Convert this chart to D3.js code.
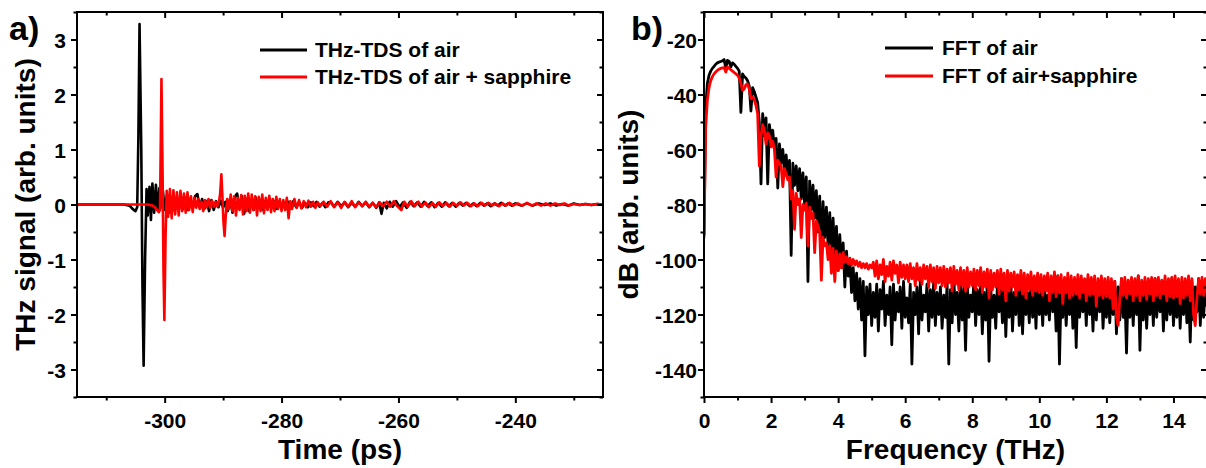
<!DOCTYPE html>
<html><head><meta charset="utf-8">
<script src="https://cdn.jsdelivr.net/npm/d3@7"></script>
<style>
body{margin:0;background:#fff;}
svg{display:block;font-family:"Liberation Sans",Arial,sans-serif;font-weight:bold;}
</style></head><body>
<svg id="c" width="1206" height="468"></svg>
<script>
// ---------- Panel a: THz time-domain signals [time (ps), signal] ----------
const tdsAir = [
[-315,0],[-310,0],[-307,0],[-306,-0.02],[-305.5,-0.08],[-305,-0.12],[-304.7,-0.05],[-304.5,1.2],[-304.3,3.28],[-304,1.0],
[-303.8,-1.5],[-303.6,-2.93],[-303.35,-1.0],[-303.1,0.28],[-302.9,-0.2],[-302.6,0.32],[-302.35,-0.28],[-302.1,0.38],[-301.8,-0.15],[-301.5,0.36],
[-301.2,-0.1],[-300.9,0.3],[-300.6,-0.05],[-300.3,0.25],[-300,-0.1],[-299.6,0.18],[-299.2,-0.15],[-298.8,0.12],[-298.4,-0.1],[-298,0.08],
[-297.6,-0.12],[-297.2,0.1],[-296.8,-0.08],[-296.4,0.12],[-296,-0.1],[-295.6,0.08],[-295.2,-0.06],[-294.8,0.15],[-294.4,0.19],[-294,-0.05],
[-293.6,0.1],[-293.2,-0.08],[-292.8,0.06],[-292.4,-0.12],[-292,0.08],[-291.6,-0.1],[-291.2,0.06],[-290.8,-0.05],[-290.4,0.07],[-290,-0.06],
[-289.6,0.05],[-289.2,-0.12],[-288.8,0.1],[-288.4,-0.15],[-288,0.14],[-287.6,0.2],[-287.2,-0.08],[-286.8,0.15],[-286.4,-0.17],[-286,0.1],
[-285.6,-0.12],[-285.2,0.08],[-284.8,-0.1],[-284.4,0.12],[-284,-0.06],[-283.6,0.08],[-283.2,-0.1],[-282.8,0.06],[-282.4,-0.08],[-282,0.1],
[-281.6,-0.05],[-281.2,0.06],[-280.8,-0.08],[-280.4,0.05],[-280,-0.06],[-279.6,0.04],[-279.2,-0.07],[-278.8,0.05],[-278.4,-0.04],[-278,0.06],
[-277.5,-0.05],[-277,0.04],[-276.5,-0.06],[-276,0.03],[-275.5,-0.05],[-275,0.04],[-274.5,-0.03],[-274,0.05],[-273.5,-0.04],[-273,0.03],
[-272.5,-0.05],[-272,0.04],[-271.5,0.03],[-271,-0.04],[-270.4,0.05],[-269.8,-0.03],[-269.2,0.04],[-268.6,-0.05],[-268,0.03],[-267.4,-0.04],
[-266.8,0.05],[-266.2,-0.03],[-265.6,0.04],[-265,-0.05],[-264.4,0.03],[-263.8,-0.06],[-263.3,0.04],[-262.9,-0.17],[-262.5,0.03],[-262,-0.07],
[-261.5,0.05],[-261,-0.04],[-260.4,0.06],[-259.8,-0.05],[-259.2,0.04],[-258.6,-0.06],[-258,0.05],[-257.4,-0.03],[-256.8,0.04],[-256.2,-0.04],
[-255.6,0.05],[-255,-0.03],[-254.4,0.04],[-253.8,-0.05],[-253.2,0.03],[-252.6,-0.04],[-252,0.04],[-251.4,-0.03],[-250.8,0.03],[-250.2,-0.04],
[-249.6,0.03],[-249,-0.02],[-248.4,0.03],[-247.8,-0.03],[-247.2,0.02],[-246.6,-0.03],[-246,0.03],[-245.4,-0.02],[-244.8,0.02],[-244.2,-0.03],
[-243.6,0.02],[-243,-0.02],[-242.4,0.03],[-241.8,-0.02],[-241.2,0.02],[-240.6,-0.02],[-240,0.02],[-239,-0.02],[-238,0.02],[-237,-0.02],
[-236,0.02],[-235,-0.01],[-234,0.02],[-233,-0.02],[-232,0.01],[-231,-0.02],[-230,0.02],[-229,-0.01],[-228,0.01],[-227,-0.01],[-226,0.01],[-225,0]
];
const tdsSapphire = [
[-315,0],[-303,0],[-302,-0.02],[-301.5,-0.07],[-301,-0.14],[-300.8,-0.1],[-300.7,0.8],[-300.55,2.28],[-300.35,0.5],[-300.2,-1.2],
[-300.05,-2.1],[-299.85,-0.6],[-299.65,0.25],[-299.4,-0.22],[-299.1,0.28],[-298.8,-0.25],[-298.5,0.26],[-298.2,-0.18],[-297.9,0.22],[-297.6,-0.2],
[-297.3,0.25],[-297,-0.12],[-296.7,0.2],[-296.4,-0.15],[-296.1,0.22],[-295.8,-0.1],[-295.5,0.15],[-295.2,-0.14],[-294.9,0.12],[-294.6,-0.06],
[-294.3,0.1],[-294,-0.08],[-293.7,0.05],[-293.4,-0.12],[-293.1,0.08],[-292.8,-0.05],[-292.5,0.1],[-292.2,-0.06],[-291.9,0.07],[-291.6,-0.04],
[-291.3,0.05],[-291,-0.03],[-290.7,0.05],[-290.5,0.2],[-290.3,0.55],[-290.1,0.1],[-289.95,-0.3],[-289.75,-0.57],[-289.55,-0.2],[-289.3,0.1],
[-289,-0.08],[-288.7,0.18],[-288.4,-0.12],[-288.1,0.15],[-287.8,-0.2],[-287.5,0.12],[-287.2,-0.1],[-286.9,0.17],[-286.6,-0.18],[-286.3,0.16],
[-286,-0.12],[-285.7,0.2],[-285.4,-0.15],[-285.1,0.18],[-284.8,-0.1],[-284.5,0.15],[-284.2,-0.2],[-283.9,0.14],[-283.6,-0.12],[-283.3,0.18],
[-283,-0.16],[-282.7,0.12],[-282.4,-0.1],[-282.1,0.16],[-281.8,-0.14],[-281.5,0.1],[-281.2,-0.12],[-280.9,0.14],[-280.6,-0.08],[-280.3,0.1],
[-280,-0.12],[-279.7,0.08],[-279.4,-0.1],[-279.1,0.12],[-278.8,-0.25],[-278.5,0.06],[-278.2,-0.08],[-277.8,0.1],[-277.4,-0.06],[-277,0.08],
[-276.6,-0.07],[-276.2,0.06],[-275.8,-0.05],[-275.4,0.07],[-275,-0.04],[-274.6,0.05],[-274.2,-0.06],[-273.8,0.04],[-273.4,-0.03],[-272.8,0.05],
[-272.2,-0.04],[-271.6,0.06],[-271,-0.05],[-270.4,0.04],[-269.8,-0.06],[-269.2,0.05],[-268.6,-0.04],[-268,0.06],[-267.4,-0.05],[-266.8,0.04],
[-266.2,-0.03],[-265.6,0.05],[-265,-0.04],[-264.4,0.03],[-263.8,-0.05],[-263.2,0.04],[-262.6,-0.03],[-262,0.05],[-261.4,-0.04],[-260.8,0.06],
[-260.2,-0.03],[-259.5,-0.1],[-259,0.05],[-258.4,-0.04],[-257.8,0.06],[-257.2,-0.03],[-256.6,0.05],[-256,-0.04],[-255.4,0.04],[-254.8,-0.05],
[-254.2,0.03],[-253.6,-0.04],[-253,0.04],[-252.4,-0.03],[-251.8,0.03],[-251.2,-0.04],[-250.6,0.03],[-250,-0.03],[-249.4,0.04],[-248.8,-0.02],
[-248.2,0.03],[-247.6,-0.03],[-247,0.02],[-246.4,-0.03],[-245.8,0.03],[-245.2,-0.02],[-244.6,0.03],[-244,-0.02],[-243.4,0.02],[-242.8,-0.03],
[-242.2,0.02],[-241.6,-0.02],[-241,0.03],[-240.4,-0.02],[-239.6,0.02],[-238.8,-0.02],[-238,0.03],[-237.2,-0.02],[-236.4,0.02],[-235.6,-0.02],
[-234.8,0.02],[-234,-0.02],[-233.2,0.02],[-232.4,-0.01],[-231.6,0.02],[-230.8,-0.02],[-230,0.01],[-229,-0.01],[-228,0.01],[-227,-0.01],[-226,0.01],[-225,0]
];

// ---------- Panel b: FFT spectra (frequency in THz, 0.05 THz sampling) ----------
const freqTHz = [
0,0.05,0.1,0.15,0.2,0.25,0.3,0.35,0.4,0.45,0.5,0.55,0.6,0.65,0.7,0.75,0.8,0.85,0.9,0.95,
1,1.05,1.1,1.15,1.2,1.25,1.3,1.35,1.4,1.45,1.5,1.55,1.6,1.65,1.7,1.75,1.8,1.85,1.9,1.95,
2,2.05,2.1,2.15,2.2,2.25,2.3,2.35,2.4,2.45,2.5,2.55,2.6,2.65,2.7,2.75,2.8,2.85,2.9,2.95,
3,3.05,3.1,3.15,3.2,3.25,3.3,3.35,3.4,3.45,3.5,3.55,3.6,3.65,3.7,3.75,3.8,3.85,3.9,3.95,
4,4.05,4.1,4.15,4.2,4.25,4.3,4.35,4.4,4.45,4.5,4.55,4.6,4.65,4.7,4.75,4.8,4.85,4.9,4.95,
5,5.05,5.1,5.15,5.2,5.25,5.3,5.35,5.4,5.45,5.5,5.55,5.6,5.65,5.7,5.75,5.8,5.85,5.9,5.95,
6,6.05,6.1,6.15,6.2,6.25,6.3,6.35,6.4,6.45,6.5,6.55,6.6,6.65,6.7,6.75,6.8,6.85,6.9,6.95,
7,7.05,7.1,7.15,7.2,7.25,7.3,7.35,7.4,7.45,7.5,7.55,7.6,7.65,7.7,7.75,7.8,7.85,7.9,7.95,
8,8.05,8.1,8.15,8.2,8.25,8.3,8.35,8.4,8.45,8.5,8.55,8.6,8.65,8.7,8.75,8.8,8.85,8.9,8.95,
9,9.05,9.1,9.15,9.2,9.25,9.3,9.35,9.4,9.45,9.5,9.55,9.6,9.65,9.7,9.75,9.8,9.85,9.9,9.95,
10,10.05,10.1,10.15,10.2,10.25,10.3,10.35,10.4,10.45,10.5,10.55,10.6,10.65,10.7,10.75,10.8,10.85,10.9,10.95,
11,11.05,11.1,11.15,11.2,11.25,11.3,11.35,11.4,11.45,11.5,11.55,11.6,11.65,11.7,11.75,11.8,11.85,11.9,11.95,
12,12.05,12.1,12.15,12.2,12.25,12.3,12.35,12.4,12.45,12.5,12.55,12.6,12.65,12.7,12.75,12.8,12.85,12.9,12.95,
13,13.05,13.1,13.15,13.2,13.25,13.3,13.35,13.4,13.45,13.5,13.55,13.6,13.65,13.7,13.75,13.8,13.85,13.9,13.95,
14,14.05,14.1,14.15,14.2,14.25,14.3,14.35,14.4,14.45,14.5,14.55,14.6,14.65,14.7,14.75,14.8,14.85,14.9,14.95,15
];
const fftAir = [
-91,-45,-36,-33,-31.5,-30.5,-29.8,-29,-28.5,-28.2,-28,-27.8,-27.3,-30.5,-27.6,-28,-30,-28.5,-29,-29.8,
-30.5,-31.5,-46.5,-32.5,-33.5,-34,-35,-37,-46,-37.5,-39,-41,-43,-50,-72.5,-47,-55,-48.5,-72.5,-51,
-56,-53,-60,-56,-74,-58,-65,-60,-68,-62,-70,-64,-98.5,-65,-73,-66,-75,-67,-78,-68.5,
-80,-70,-108,-71.5,-82,-73,-85,-75,-90,-77,-99,-79,-92,-81,-95,-83,-97,-85,-100,-88,
-104,-91,-103,-94,-110,-97,-106,-100,-112,-103,-115,-105,-118,-107,-122,-108,-135,-110,-120,-109,
-124,-112,-121,-109,-126,-111,-118,-108,-124,-113,-120,-110,-131,-109,-122,-112,-119,-110,-125,-108,
-121,-114,-123,-109,-138,-112,-120,-110,-127,-108,-122,-113,-119,-109,-126,-111,-121,-108,-124,-112,
-120,-110,-125,-113,-121,-109,-138,-111,-123,-107,-120,-112,-126,-109,-122,-110,-133,-108,-121,-113,
-119,-107,-124,-111,-120,-109,-127,-112,-122,-108,-137,-110,-121,-113,-125,-109,-119,-111,-123,-107,
-128,-110,-121,-108,-126,-112,-120,-106,-124,-111,-127,-109,-120,-112,-123,-107,-121,-110,-125,-108,
-120,-111,-124,-109,-120,-113,-122,-107,-119,-110,-126,-106,-138,-111,-121,-108,-124,-112,-120,-109,
-125,-110,-132,-108,-121,-112,-119,-109,-124,-107,-120,-111,-126,-108,-122,-110,-119,-107,-125,-112,
-121,-109,-123,-111,-120,-108,-127,-110,-122,-107,-121,-112,-134,-109,-121,-111,-124,-108,-120,-106,
-133,-110,-122,-108,-125,-112,-120,-109,-124,-107,-121,-111,-119,-108,-126,-110,-122,-109,-120,-107,
-124,-112,-121,-108,-125,-110,-120,-109,-123,-111,-130,-108,-122,-110,-119,-107,-124,-109,-121,-108,-117
];
const fftSapphire = [
-92,-52,-42,-37.5,-35,-33.5,-32.5,-31.8,-31.2,-30.8,-30.5,-30.3,-30.2,-31.8,-30,-30.5,-31,-31.5,-32,-32.5,
-33,-34,-36,-38.5,-38,-36.5,-36.2,-38,-41.5,-41,-42,-44,-47,-66,-55,-51,-53,-58,-54,-55,
-59,-57,-60,-70,-64,-65,-66,-73.5,-67,-69,-71,-70,-78,-75,-89,-76,-80,-78,-92,-80,
-82,-79.5,-95,-81,-85,-83,-97.5,-86,-88,-90,-107.5,-92,-95,-94,-100,-95,-105,-96,-108,-97,
-104,-98,-103,-97.5,-101,-99,-101.5,-99.5,-102,-100,-102,-100.5,-102.5,-101,-103,-101.5,-103,-101.5,-103.5,-102,
-103,-101,-106,-100.5,-107,-102,-105.5,-100,-108,-102.5,-106,-101,-107.5,-100.5,-105,-102,-108.5,-101,-106.5,-102,
-107,-102,-108,-101.5,-107,-103,-109.5,-101.5,-107.5,-103,-109,-102,-107,-102.5,-110,-102,-108,-103,-110.5,-102.5,
-108.5,-103,-109.5,-102.5,-110,-103.5,-108.5,-103,-111.5,-102.5,-109,-104,-111,-103,-109.5,-104,-111.5,-103,-110,-104.5,
-109.5,-103.5,-111,-104,-109.5,-103,-112,-104.5,-110,-103.5,-114,-104,-111,-105,-110,-104,-112.5,-103.5,-111,-105,
-115,-104,-111.5,-105,-110,-104.5,-113,-105.5,-111,-104,-112.5,-105,-114,-105.5,-111,-104.5,-113,-106,-111.5,-105,
-112,-105.5,-113,-106,-111.5,-105,-115,-106,-112,-104.5,-113.5,-106,-112,-105.5,-116,-106.5,-112,-105,-114,-106,
-113,-106.5,-112.5,-105.5,-114,-106,-112,-107,-115,-105.5,-113,-106.5,-112.5,-106,-117,-107,-113,-106,-114,-107,
-113.5,-106.5,-114,-107,-118,-108,-121,-124,-114,-107,-113,-106.5,-114,-107.5,-112.5,-106.5,-115,-107,-113,-106,
-115,-107.5,-113,-106.5,-114.5,-107,-112.5,-106.5,-115,-107,-113,-106.5,-114,-107.5,-112.5,-106,-115,-107,-113.5,-106.5,
-114,-106,-113.5,-107,-116,-106.5,-114,-107,-113,-106,-115,-107,-120,-124,-114,-107,-112.5,-106.5,-113,-107,-112
];

// tick values
const timeMajor = [-300,-280,-260,-240], timeMinor = [-310,-290,-270,-250,-230];
const sigMajor = [-3,-2,-1,0,1,2,3], sigMinor = [-3.5,-2.5,-1.5,-0.5,0.5,1.5,2.5,3.5];
const freqMajor = [0,2,4,6,8,10,12,14], freqMinor = [1,3,5,7,9,11,13,15];
const dbMajor = [-140,-120,-100,-80,-60,-40,-20], dbMinor = [-150,-130,-110,-90,-70,-50,-30,-10];
const legendA = ["THz-TDS of air","THz-TDS of air + sapphire"];
const legendB = ["FFT of air","FFT of air+sapphire"];
const colors = ["#000000","#ff0000"];

const svg = d3.select("#c");

function drawPanel(o){
  const g = svg.append("g");
  const [x0,x1] = o.x.range(), [y1,y0] = o.y.range();
  const cid = "clip"+o.id;
  svg.append("clipPath").attr("id",cid).append("rect")
     .attr("x",x0).attr("y",y0).attr("width",x1-x0).attr("height",y1-y0);
  const plot = g.append("g").attr("clip-path",`url(#${cid})`);
  o.series.forEach((s,i)=>{
    plot.append("path").datum(s)
      .attr("fill","none").attr("stroke",colors[i]).attr("stroke-width",o.lw)
      .attr("stroke-linejoin","round").attr("stroke-linecap","round")
      .attr("d", d3.line().x(d=>o.x(d[0])).y(d=>o.y(d[1])));
  });
  // frame
  g.append("rect").attr("x",x0).attr("y",y0).attr("width",x1-x0).attr("height",y1-y0)
    .attr("fill","none").attr("stroke","#000").attr("stroke-width",2);
  const style = sel => { sel.select(".domain").remove(); sel.selectAll("line").attr("stroke","#000").attr("stroke-width",2); };
  // bottom
  const bx = g.append("g").attr("transform",`translate(0,${y1})`)
    .call(d3.axisBottom(o.x).tickValues(o.xMajor).tickSize(6).tickFormat(d=>d)).call(style);
  bx.selectAll("text").attr("y",31).attr("dy",0).attr("font-size",21).attr("font-weight","bold")
    .attr("font-family","Liberation Sans, Arial, sans-serif").attr("fill","#000");
  g.append("g").attr("transform",`translate(0,${y1})`)
    .call(d3.axisBottom(o.x).tickValues(o.xMinor).tickSize(3.5).tickFormat("")).call(style);
  // top (inward)
  g.append("g").attr("transform",`translate(0,${y0})`)
    .call(d3.axisBottom(o.x).tickValues(o.xMajor).tickSize(6).tickFormat("")).call(style);
  g.append("g").attr("transform",`translate(0,${y0})`)
    .call(d3.axisBottom(o.x).tickValues(o.xMinor).tickSize(3.5).tickFormat("")).call(style);
  // left
  const ly = g.append("g").attr("transform",`translate(${x0},0)`)
    .call(d3.axisLeft(o.y).tickValues(o.yMajor).tickSize(6).tickFormat(d=>d)).call(style);
  ly.selectAll("text").attr("x",o.labelDx).attr("dy","0.36em").attr("font-size",21).attr("font-weight","bold")
    .attr("font-family","Liberation Sans, Arial, sans-serif").attr("fill","#000");
  g.append("g").attr("transform",`translate(${x0},0)`)
    .call(d3.axisLeft(o.y).tickValues(o.yMinor).tickSize(3.5).tickFormat("")).call(style);
  // right (inward)
  g.append("g").attr("transform",`translate(${x1},0)`)
    .call(d3.axisLeft(o.y).tickValues(o.yMajor).tickSize(6).tickFormat("")).call(style);
  g.append("g").attr("transform",`translate(${x1},0)`)
    .call(d3.axisLeft(o.y).tickValues(o.yMinor).tickSize(3.5).tickFormat("")).call(style);
  // titles
  g.append("text").attr("x",(x0+x1)/2).attr("y",459).attr("text-anchor","middle")
    .attr("font-size",28).text(o.xTitle);
  g.append("text").attr("transform",`translate(${o.yTitleX},${(y0+y1)/2}) rotate(-90)`)
    .attr("text-anchor","middle").attr("font-size",28).text(o.yTitle);
  g.append("text").attr("x",o.tagX).attr("y",40).attr("font-size",34).text(o.tag);
  // legend
  o.legend.forEach((t,i)=>{
    const ly = o.legY[i];
    g.append("line").attr("x1",o.legX[0]).attr("x2",o.legX[1]).attr("y1",ly).attr("y2",ly)
      .attr("stroke",colors[i]).attr("stroke-width",3);
    g.append("text").attr("x",o.legX[2]).attr("y",ly).attr("dy","0.35em").attr("font-size",21).text(t);
  });
}

drawPanel({
  id:"a",
  x: d3.scaleLinear().domain([-315,-225]).range([77,603]),
  y: d3.scaleLinear().domain([-3.5,3.5]).range([397,12]),
  xMajor: timeMajor, xMinor: timeMinor, yMajor: sigMajor, yMinor: sigMinor,
  series: [tdsAir, tdsSapphire], lw: 2.6,
  labelDx: -11, xTitle: "Time (ps)", yTitle: "THz signal (arb. units)", yTitleX: 35,
  tag: "a)", tagX: 9, legend: legendA, legY:[50,77], legX:[260,307,315]
});
drawPanel({
  id:"b",
  x: d3.scaleLinear().domain([0,15]).range([704,1207]),
  y: d3.scaleLinear().domain([-150,-10]).range([397,12]),
  xMajor: freqMajor, xMinor: freqMinor, yMajor: dbMajor, yMinor: dbMinor,
  series: [freqTHz.map((f,i)=>[f,fftAir[i]]), freqTHz.map((f,i)=>[f,fftSapphire[i]])], lw: 2.8,
  labelDx: -7, xTitle: "Frequency (THz)", yTitle: "dB (arb. units)", yTitleX: 638,
  tag: "b)", tagX: 631, legend: legendB, legY:[48,76], legX:[885,933,942]
});
</script></body></html>
